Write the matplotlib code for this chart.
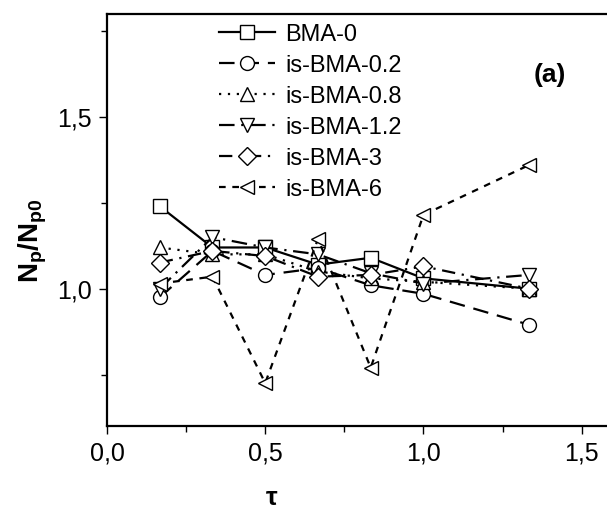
import matplotlib.pyplot as plt
import matplotlib.ticker as mticker

plt.rcParams['font.family'] = ['Liberation Sans', 'DejaVu Sans']
plt.rcParams['mathtext.fontset'] = 'custom'
plt.rcParams['mathtext.rm'] = 'Liberation Sans'
plt.rcParams['mathtext.bf'] = 'Liberation Sans:bold'

tau = [1/6, 1/3, 0.5, 2/3, 5/6, 1.0, 4/3]

bma_0 = [1.24, 1.12, 1.12, 1.07, 1.09, 1.03, 1.00]
is_bma_02 = [0.975, 1.11, 1.04, 1.06, 1.01, 0.985, 0.895]
is_bma_08 = [1.12, 1.10, 1.10, 1.05, 1.03, 1.02, 1.00]
is_bma_12 = [1.00, 1.15, 1.12, 1.10, 1.045, 1.015, 1.04]
is_bma_3 = [1.076, 1.11, 1.095, 1.035, 1.04, 1.065, 1.00]
is_bma_6 = [1.015, 1.035, 0.725, 1.145, 0.77, 1.215, 1.36]

series = [
    ('BMA-0', bma_0, 's', '-'),
    ('is-BMA-0.2', is_bma_02, 'o', (0, (7, 4))),
    ('is-BMA-0.8', is_bma_08, '^', (0, (1, 3))),
    ('is-BMA-1.2', is_bma_12, 'v', (0, (7, 3, 1, 3))),
    ('is-BMA-3', is_bma_3, 'D', (0, (6, 3, 1, 3))),
    ('is-BMA-6', is_bma_6, '<', (0, (3, 3))),
]

fig = plt.figure(figsize=(6.07, 5.11), dpi=100)
ax = fig.add_axes([0.1763, 0.1663, 0.8237, 0.8063])

for name, vals, mk, ls in series:
    ms = 9 if mk == 'D' else 10
    ax.plot(tau, vals, linestyle=ls, color='black', lw=1.6,
            marker=mk, markersize=ms, markerfacecolor='white',
            markeredgecolor='black', markeredgewidth=1.0, label=name)

ax.set_xlim(0, 1.58)
ax.set_ylim(0.6, 1.8)
ax.xaxis.set_major_locator(mticker.MultipleLocator(0.5))
ax.xaxis.set_minor_locator(mticker.MultipleLocator(0.25))
ax.yaxis.set_major_locator(mticker.MultipleLocator(0.5))
ax.yaxis.set_minor_locator(mticker.MultipleLocator(0.25))
fmt = mticker.FuncFormatter(lambda v, p: f'{v:.1f}'.replace('.', ','))
ax.xaxis.set_major_formatter(fmt)
ax.yaxis.set_major_formatter(fmt)
ax.tick_params(which='major', direction='out', length=6, width=1.0,
               labelsize=18, pad=5)
ax.tick_params(which='minor', direction='out', length=4, width=1.0)
for sp in ax.spines.values():
    sp.set_linewidth(1.6)
ax.spines['right'].set_visible(False)

ax.set_xlabel(r'$\mathbf{\tau}$', fontsize=19, va='center')
ax.xaxis.set_label_coords(0.33, -0.175)
ax.set_ylabel(r'$\mathbf{N_p/N_{p0}}$', fontsize=20, va='center')
ax.yaxis.set_label_coords(-0.148, 0.451)
ax.text(0.886, 0.852, '(a)', transform=ax.transAxes, fontsize=19,
        fontweight='bold', ha='center', va='center')

ax.legend(loc='upper left', bbox_to_anchor=(0.2, 1.005), frameon=False,
          fontsize=17, handlelength=2.4, handletextpad=0.4,
          labelspacing=0.38, borderaxespad=0.1)

fig.savefig('out.png', dpi=100)
